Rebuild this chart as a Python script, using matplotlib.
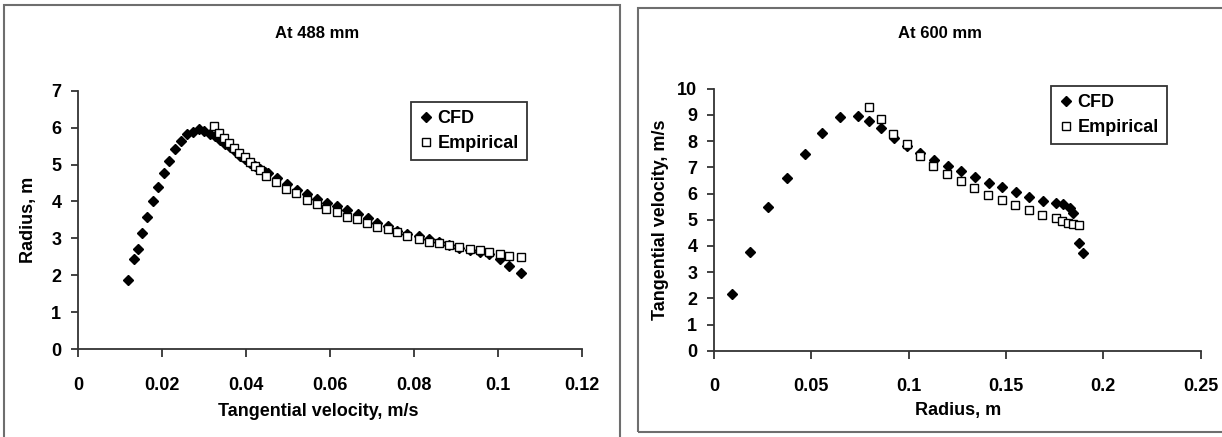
#!/usr/bin/env python3
#
# Usage: plot.py
# Draws the CFD vs empirical velocity profiles at two heights and saves
# them side by side in 'out.png'.

import matplotlib.pyplot as plt
from matplotlib.patches import Rectangle


# At 488 mm: x = tangential velocity (m/s), y = radius (m)
CFD_488_X = [0.0120, 0.0133, 0.0142, 0.0153, 0.0164, 0.0179, 0.0190, 0.0205,
             0.0217, 0.0231, 0.0245, 0.0260, 0.0273, 0.0289, 0.0301, 0.0314,
             0.0326, 0.0338, 0.0350, 0.0362, 0.0374, 0.0386, 0.0398, 0.0410,
             0.0421, 0.0433, 0.0445, 0.0453, 0.0473, 0.0497, 0.0521, 0.0545,
             0.0568, 0.0592, 0.0617, 0.0641, 0.0667, 0.0690, 0.0713, 0.0739,
             0.0760, 0.0784, 0.0811, 0.0835, 0.0859, 0.0884, 0.0908, 0.0933,
             0.0957, 0.0979, 0.1005, 0.1027, 0.1054]
CFD_488_Y = [1.88, 2.43, 2.70, 3.15, 3.59, 4.01, 4.39, 4.76,
             5.10, 5.41, 5.65, 5.83, 5.89, 5.95, 5.90, 5.83,
             5.76, 5.67, 5.56, 5.47, 5.36, 5.24, 5.14, 5.04,
             4.95, 4.87, 4.81, 4.77, 4.64, 4.48, 4.32, 4.19,
             4.06, 3.95, 3.88, 3.78, 3.67, 3.56, 3.41, 3.32,
             3.20, 3.13, 3.05, 2.98, 2.89, 2.82, 2.75, 2.69,
             2.64, 2.57, 2.45, 2.26, 2.05]

EMP_488_X = [0.0324, 0.0336, 0.0348, 0.0360, 0.0371, 0.0384, 0.0398, 0.0410,
             0.0421, 0.0433, 0.0448, 0.0471, 0.0495, 0.0519, 0.0545, 0.0568,
             0.0590, 0.0616, 0.0640, 0.0665, 0.0689, 0.0713, 0.0739, 0.0760,
             0.0784, 0.0811, 0.0835, 0.0859, 0.0884, 0.0908, 0.0933, 0.0957,
             0.0979, 0.1005, 0.1027, 0.1054]
EMP_488_Y = [6.03, 5.86, 5.72, 5.58, 5.45, 5.32, 5.20, 5.07,
             4.96, 4.86, 4.70, 4.52, 4.34, 4.22, 4.05, 3.94,
             3.80, 3.71, 3.59, 3.53, 3.41, 3.30, 3.24, 3.16,
             3.07, 2.98, 2.91, 2.87, 2.82, 2.76, 2.71, 2.68,
             2.62, 2.57, 2.51, 2.48]

# At 600 mm: x = radius (m), y = tangential velocity (m/s)
CFD_600_X = [0.0094, 0.0187, 0.0279, 0.0373, 0.0468, 0.0557, 0.0649, 0.0742,
             0.0798, 0.0858, 0.0926, 0.0990, 0.1057, 0.1131, 0.1201, 0.1271,
             0.1340, 0.1412, 0.1482, 0.1550, 0.1620, 0.1689, 0.1759, 0.1792,
             0.1829, 0.1846, 0.1877, 0.1895]
CFD_600_Y = [2.18, 3.78, 5.48, 6.59, 7.51, 8.33, 8.93, 8.98,
             8.77, 8.50, 8.13, 7.82, 7.53, 7.28, 7.05, 6.86,
             6.64, 6.41, 6.24, 6.06, 5.85, 5.73, 5.64, 5.60,
             5.43, 5.24, 4.12, 3.72]

EMP_600_X = [0.0798, 0.0858, 0.0921, 0.0990, 0.1057, 0.1127, 0.1199, 0.1268,
             0.1336, 0.1408, 0.1478, 0.1547, 0.1620, 0.1687, 0.1756, 0.1787,
             0.1821, 0.1847, 0.1877]
EMP_600_Y = [9.29, 8.83, 8.28, 7.89, 7.45, 7.06, 6.74, 6.48,
             6.20, 5.95, 5.75, 5.56, 5.37, 5.18, 5.06, 4.96,
             4.89, 4.84, 4.80]

X_TICKS_488 = [0, 0.02, 0.04, 0.06, 0.08, 0.1, 0.12]
X_LABELS_488 = ['0', '0.02', '0.04', '0.06', '0.08', '0.1', '0.12']
Y_TICKS_488 = list(range(0, 8))
X_TICKS_600 = [0, 0.05, 0.1, 0.15, 0.2, 0.25]
X_LABELS_600 = ['0', '0.05', '0.1', '0.15', '0.2', '0.25']
Y_TICKS_600 = list(range(0, 11))

W, H = 1222, 437
AXIS_COLOR = '#333333'
FONT = 'Liberation Sans'


def main():
    plt.rcParams['font.family'] = FONT
    plt.rcParams['font.weight'] = 'bold'
    fig = plt.figure(figsize=(W / 100, H / 100), dpi=100)

    # panel frames
    add_frame(fig, 4, 5, 620, 440)
    add_frame(fig, 638, 8, 1225, 432)

    ax1 = fig.add_axes(px_rect(78, 90.7, 582, 349))
    draw_panel(ax1, CFD_488_X, CFD_488_Y, EMP_488_X, EMP_488_Y,
               X_TICKS_488, X_LABELS_488, Y_TICKS_488, (0, 0.12), (0, 7),
               legend_at=(0.661, 0.956))
    fig.text(317 / W, 1 - 33 / H, 'At 488 mm', ha='center', va='center',
             fontsize=12, fontweight='bold')
    fig.text(318 / W, 1 - 412 / H, 'Tangential velocity, m/s', ha='center',
             va='center', fontsize=13, fontweight='bold')
    fig.text(28 / W, 1 - 220 / H, 'Radius, m', ha='center', va='center',
             rotation=90, fontsize=13, fontweight='bold')

    ax2 = fig.add_axes(px_rect(714, 88.8, 1200.5, 350.7))
    draw_panel(ax2, CFD_600_X, CFD_600_Y, EMP_600_X, EMP_600_Y,
               X_TICKS_600, X_LABELS_600, Y_TICKS_600, (0, 0.25), (0, 10),
               legend_at=(0.693, 1.011))
    fig.text(940 / W, 1 - 33 / H, 'At 600 mm', ha='center', va='center',
             fontsize=12, fontweight='bold')
    fig.text(958 / W, 1 - 411 / H, 'Radius, m', ha='center', va='center',
             fontsize=13, fontweight='bold')
    fig.text(660 / W, 1 - 220 / H, 'Tangential velocity, m/s', ha='center',
             va='center', rotation=90, fontsize=13, fontweight='bold')

    fig.savefig('out.png', dpi=100)
    plt.close(fig)


def px_rect(left, top, right, bottom):
    # pixel box (origin top-left) -> figure fraction [x, y, w, h]
    return [left / W, 1 - bottom / H, (right - left) / W, (bottom - top) / H]


def add_frame(fig, left, top, right, bottom):
    x, y, w, h = px_rect(left, top, right, bottom)
    fig.patches.append(Rectangle((x, y), w, h, transform=fig.transFigure,
                                 fill=False, edgecolor='#6e6e6e', lw=1.5,
                                 clip_on=False))


def draw_panel(ax, cx, cy, ex, ey, xticks, xlabels, yticks, xlim, ylim,
               legend_at):
    ax.plot(cx, cy, linestyle='none', marker='D', markersize=5.2,
            color='black', label='CFD', clip_on=False)
    ax.plot(ex, ey, linestyle='none', marker='s', markersize=6.3,
            markerfacecolor='white', markeredgecolor='black',
            markeredgewidth=1.0, label='Empirical', clip_on=False)
    ax.set_xlim(*xlim)
    ax.set_ylim(*ylim)
    ax.set_xticks(xticks)
    ax.set_xticklabels(xlabels)
    ax.set_yticks(yticks)
    for side in ['top', 'right']:
        ax.spines[side].set_visible(False)
    for side in ['left', 'bottom']:
        ax.spines[side].set_color(AXIS_COLOR)
        ax.spines[side].set_linewidth(1.3)
    ax.tick_params(axis='x', direction='out', length=6, width=1.3,
                   color=AXIS_COLOR, pad=14, labelsize=13)
    ax.tick_params(axis='y', direction='out', length=5, width=1.3,
                   color=AXIS_COLOR, pad=7, labelsize=13)
    for lbl in ax.get_xticklabels() + ax.get_yticklabels():
        lbl.set_fontweight('bold')
    leg = ax.legend(loc='upper left', bbox_to_anchor=legend_at,
                    borderaxespad=0, fancybox=False, framealpha=1,
                    edgecolor='#333333', fontsize=13, handletextpad=0.2,
                    handlelength=0.8, borderpad=0.45, labelspacing=0.45,
                    prop={'family': FONT, 'weight': 'bold', 'size': 13})
    leg.get_frame().set_linewidth(1.3)


if __name__ == '__main__':
    main()
